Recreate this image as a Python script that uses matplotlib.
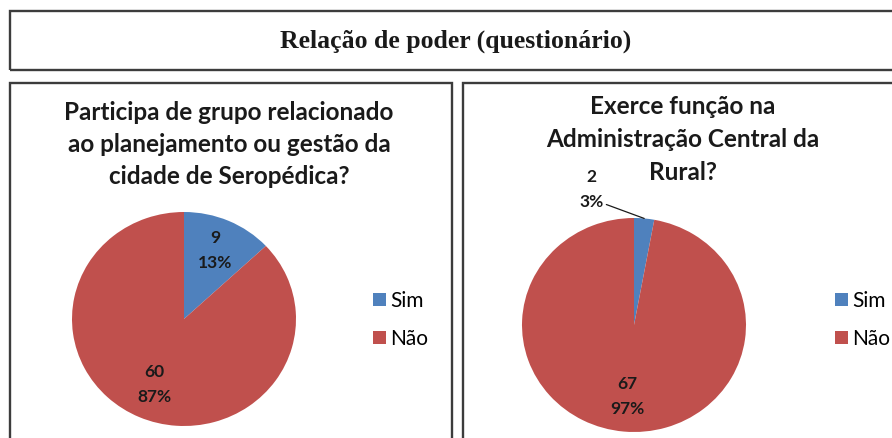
import matplotlib
matplotlib.use("Agg")
import matplotlib.pyplot as plt
from matplotlib.patches import Rectangle
import numpy as np

# ---- data ----
main_title = "Relação de poder (questionário)"
categories = ["Sim", "Não"]
left_title = ["Participa de grupo relacionado", "ao planejamento ou gestão da",
              "cidade de Seropédica?"]
left_values = [9, 60]
right_title = ["Exerce função na", "Administração Central da", "Rural?"]
right_values = [2, 67]
colors = ["#4F81BD", "#C0504D"]

W, H = 892, 438
fig = plt.figure(figsize=(W / 100, H / 100), dpi=100)
fig.patch.set_facecolor("white")

SANS = ["Lato", "DejaVu Sans"]
BORDER = "#3c3c3c"
TXT = "#1a1a1a"


def px_rect(x0, y0, x1, y1):
    """pixel box (top-left origin) -> figure fraction rect"""
    return (x0 / W, 1 - y1 / H, (x1 - x0) / W, (y1 - y0) / H)


def frame(x0, y0, x1, y1):
    l, b, w, h = px_rect(x0, y0, x1, y1)
    fig.patches.append(Rectangle((l, b), w, h, transform=fig.transFigure,
                                 fill=False, edgecolor=BORDER, linewidth=1.7,
                                 zorder=0))


# boxes
frame(10, 11, 910, 70)
frame(10, 83, 452, 450)
frame(463, 83, 910, 450)

fig.text(456 / W, 1 - 41 / H, main_title, ha="center", va="center",
         family=["Liberation Serif"], weight="bold", fontsize=18.5,
         color=TXT)


def draw_pie(cx, cy, rx, ry, values, title_lines, title_cx, title_y0,
             legend_x, small_outside=False):
    ax = fig.add_axes(px_rect(cx - rx, cy - ry, cx + rx, cy + ry))
    wedges, _ = ax.pie(values, colors=colors, startangle=90,
                       counterclock=False, radius=1.0,
                       wedgeprops=dict(linewidth=0))
    ax.set_aspect("auto")
    ax.set_xlim(-1, 1)
    ax.set_ylim(-1, 1)
    ax.axis("off")
    total = sum(values)
    for i, (w, v) in enumerate(zip(wedges, values)):
        pct = v / total * 100
        lab = f"{v}\n{pct:.0f}%"
        mid = np.deg2rad((w.theta1 + w.theta2) / 2)
        if small_outside and pct < 5:
            ax.annotate(lab, xy=(np.cos(mid), np.sin(mid)),
                        xytext=(-0.38, 1.27), textcoords="data",
                        ha="center", va="center", fontsize=12.5,
                        family=SANS, weight="bold", color=TXT,
                        linespacing=1.7, annotation_clip=False,
                        arrowprops=dict(arrowstyle="-", color=TXT,
                                        lw=0.9, shrinkA=0, shrinkB=0,
                                        relpos=(1.0, 0.15)))
        else:
            r = 0.7 if pct < 50 else 0.67
            ax.text(r * np.cos(mid), r * np.sin(mid), lab, ha="center",
                    va="center", fontsize=12.5, family=SANS, weight="bold",
                    color=TXT, linespacing=1.7)
    for k, line in enumerate(title_lines):
        fig.text(title_cx / W, 1 - (title_y0 + 32.5 * k) / H, line,
                 ha="center", va="center", fontsize=17.5, family=SANS,
                 weight="bold", color=TXT)
    fig.legend(wedges, categories, loc="center left",
               bbox_to_anchor=(legend_x / W, 1 - 320 / H), frameon=False,
               prop=dict(family=SANS, size=15), handlelength=0.62,
               handleheight=0.62, handletextpad=0.2, labelspacing=0.86,
               borderpad=0, borderaxespad=0)
    return ax


draw_pie(184, 319, 112, 107, left_values, left_title, 229, 112, 373)
draw_pie(634, 325, 112, 107, right_values, right_title, 683, 107, 835,
         small_outside=True)

fig.savefig("out.png", dpi=100, facecolor="white")
